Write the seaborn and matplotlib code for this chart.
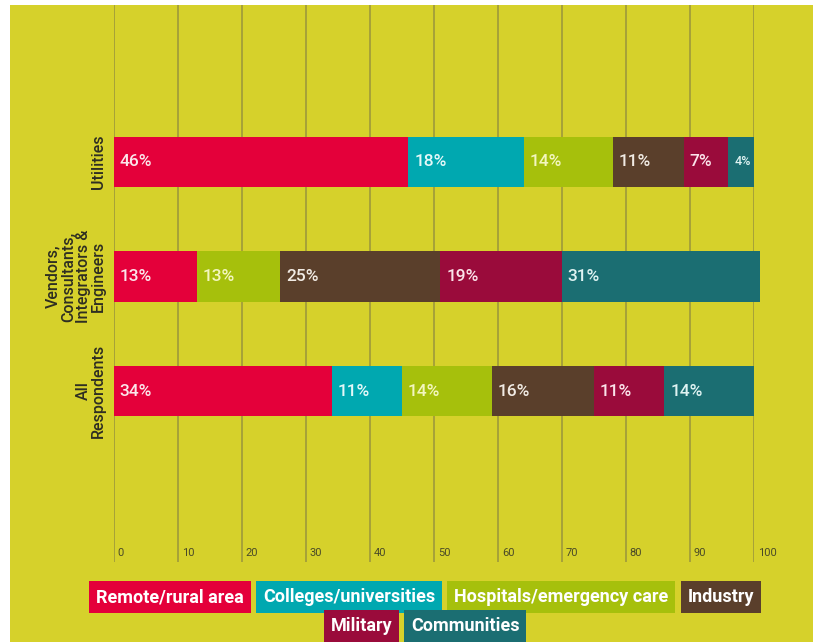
import numpy as np
import pandas as pd
import matplotlib
matplotlib.use("Agg")
import matplotlib.pyplot as plt
import matplotlib.transforms as mtransforms
from matplotlib.patches import Rectangle
import seaborn as sns

# ================= Data =================
groups = ["Utilities",
          "Vendors,\nConsultants,\nIntegrators &\nEngineers",
          "All\nRespondents"]
series = ["Remote/rural area", "Colleges/universities", "Hospitals/emergency care",
          "Industry", "Military", "Communities"]
remote = [46, 13, 34]
colleges = [18, 0, 11]
hospitals = [14, 13, 14]
industry = [11, 25, 16]
military = [7, 19, 11]
communities = [4, 31, 14]
x_ticks = [0, 10, 20, 30, 40, 50, 60, 70, 80, 90, 100]

colors = ["#e4003a", "#00a8b0", "#a6c00c", "#5a3f2b", "#9a0b3b", "#1b6e72"]
label_colors = ["#fbe6ea", "#e4f8f8", "#f3f6c0", "#f1ebe4", "#fbe3ea", "#dff3f2"]
bg = "#d6d12b"

df = pd.DataFrame({"group": groups, "Remote/rural area": remote,
                   "Colleges/universities": colleges,
                   "Hospitals/emergency care": hospitals,
                   "Industry": industry, "Military": military,
                   "Communities": communities})

sns.set_style("white")
plt.rcParams["font.family"] = ["Liberation Sans Narrow", "Roboto", "DejaVu Sans"]

fig = plt.figure(figsize=(8.13, 6.42), dpi=100)
fig.patch.set_facecolor("white")
fig.patches.append(Rectangle((10 / 813, 0), 1, 637 / 642, transform=fig.transFigure,
                             facecolor=bg, edgecolor="none", zorder=-10))

ax = fig.add_axes([114 / 813, 80 / 642, 640 / 813, 557 / 642])
ax.set_facecolor("none")

# ================= Stacked bars (cumulative, drawn back to front) =================
cum = df[series].cumsum(axis=1)
for i in range(len(series) - 1, -1, -1):
    sns.barplot(x=cum[series[i]], y=df["group"], color=colors[i], orient="h",
                width=0.44, saturation=1, ax=ax, zorder=3)

for p in ax.patches:
    p.set_clip_on(False)
    p.set_edgecolor("none")

# value labels
for i, s in enumerate(series):
    lefts = cum[s] - df[s]
    for j, (v, l) in enumerate(zip(df[s], lefts)):
        if v == 0:
            continue
        ax.text(l + 0.9, j, f"{v}%", ha="left", va="center", color=label_colors[i],
                fontsize=12.5 if v > 4 else 9, fontweight="medium", zorder=5)

ax.set_xlim(0, 100)
ax.set_ylim(3.493, -1.371)
ax.set_xticks(x_ticks)
ax.set_xticklabels([])
ax.tick_params(axis="x", length=0)
ax.grid(axis="x", color="#a39e3a", linewidth=1.3, zorder=0)
ax.grid(axis="y", visible=False)
ax.set_axisbelow(True)
for sp in ax.spines.values():
    sp.set_visible(False)
ax.set_xlabel("")
ax.set_ylabel("")

# x tick labels drawn inside the plot, right of each grid line
trans = mtransforms.blended_transform_factory(ax.transData, ax.transAxes)
for t in x_ticks:
    ax.text(t + 0.6, 0.016, str(t), transform=trans, ha="left", va="center",
            fontsize=8, color="#4a4a28")

# rotated group labels
ax.tick_params(axis="y", length=0, pad=6)
for lab in ax.get_yticklabels():
    lab.set_rotation(90)
    lab.set_multialignment("center")
    lab.set_va("center")
    lab.set_ha("right")
    lab.set_fontsize(11.5)
    lab.set_fontweight("medium")
    lab.set_color("#2e2e22")
    lab.set_linespacing(1.0)

# ================= Legend as coloured boxes =================
rows = [[0, 1, 2, 3], [4, 5]]
row_y = [597, 626]
pad_px = 7
gap_px = 5
center_px = 425
fig.canvas.draw()
renderer = fig.canvas.get_renderer()
for r, idxs in enumerate(rows):
    texts = []
    widths = []
    for i in idxs:
        t = fig.text(0, 1 - row_y[r] / 642, series[i], ha="center", va="center",
                     color="white", fontsize=13, fontweight="bold",
                     bbox=dict(boxstyle="square,pad=0.38", facecolor=colors[i],
                               edgecolor="none"))
        w = t.get_window_extent(renderer).width
        texts.append(t)
        widths.append(w + 2 * pad_px)
    total = sum(widths) + gap_px * (len(widths) - 1)
    x = center_px - total / 2
    for t, w in zip(texts, widths):
        t.set_x((x + w / 2) / 813)
        x += w + gap_px

fig.savefig("out.png", dpi=100, facecolor=fig.get_facecolor())
